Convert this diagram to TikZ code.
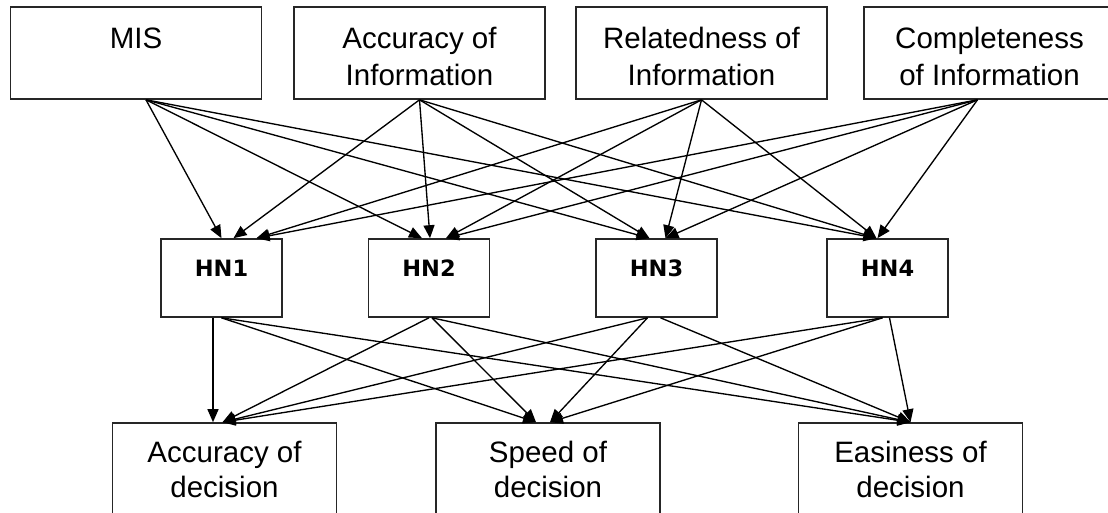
\documentclass[tikz,border=0pt]{standalone}
\usepackage{fontspec}
\setmainfont{Liberation Sans}
\newfontfamily\hnfont{DejaVu Sans}
\usetikzlibrary{arrows.meta}
\newcommand{\mylines}[2]{\begin{tabular}[t]{@{}c@{}}#1\\#2\end{tabular}}
\begin{document}
\begin{tikzpicture}[x=1pt,y=-1pt,
  boxbase/.style={draw=black!85, line width=1.6pt, inner sep=0pt, fill=white},
  topbox/.style={boxbase, minimum width=251pt, minimum height=92pt},
  hnbox/.style={boxbase, minimum width=121pt, minimum height=78pt},
  botbox/.style={boxbase, minimum width=224pt, minimum height=120pt},
  toptxt/.style={font=\fontsize{29.5}{37}\selectfont, inner sep=0pt, anchor=base},
  bottxt/.style={font=\fontsize{29.5}{35}\selectfont, inner sep=0pt, anchor=base},
  hntxt/.style={font=\hnfont\bfseries\fontsize{22.5}{27}\selectfont, inner sep=0pt, anchor=base},
  arr/.style={-{Triangle[length=13pt,width=11pt]}, line width=1.35pt, draw=black}
]
\useasboundingbox (0,0) rectangle (1108,512);
\clip (0,0) rectangle (1108,512);
\fill[white] (0,0) rectangle (1108,512);
% top boxes
\node[topbox] (mis)  at (136,53) {};
\node[topbox] (acc)  at (419.5,53) {};
\node[topbox] (rel)  at (701.5,53) {};
\node[topbox] (comp) at (989.5,53) {};
\node[toptxt] (misT)  at (136,48) {MIS};
\node[toptxt] (accT)  at (419.5,48) {\mylines{Accuracy of}{Information}};
\node[toptxt] (relT)  at (701.5,48) {\mylines{Relatedness of}{Information}};
\node[toptxt] (compT) at (989.5,48) {\mylines{Completeness}{of Information}};
% hidden nodes
\node[hnbox] (hn1) at (221.5,278) {};
\node[hnbox] (hn2) at (429,278) {};
\node[hnbox] (hn3) at (656.5,278) {};
\node[hnbox] (hn4) at (887.5,278) {};
\node[hntxt] (hn1T) at (221.5,276) {HN1};
\node[hntxt] (hn2T) at (429,276) {HN2};
\node[hntxt] (hn3T) at (656.5,276) {HN3};
\node[hntxt] (hn4T) at (887.5,276) {HN4};
% bottom boxes
\node[botbox] (dacc) at (224.5,483) {};
\node[botbox] (dspd) at (548,483) {};
\node[botbox] (deas) at (910.5,483) {};
\node[bottxt] (daccT) at (224.5,462) {\mylines{Accuracy of}{decision}};
\node[bottxt] (dspdT) at (548,462) {\mylines{Speed of}{decision}};
\node[bottxt] (deasT) at (910.5,462) {\mylines{Easiness of}{decision}};
% top -> hidden
\draw[arr] ([xshift=10pt]mis.south) -- (hn1.north);
\draw[arr] ([xshift=10pt]mis.south) -- ([xshift=-7pt]hn2.north);
\draw[arr] ([xshift=10pt]mis.south) -- ([xshift=-7pt]hn3.north);
\draw[arr] ([xshift=10pt]mis.south) -- ([xshift=-11pt]hn4.north);
\draw[arr] (acc.south) -- ([xshift=12pt]hn1.north);
\draw[arr] (acc.south) -- ([xshift=1pt]hn2.north);
\draw[arr] (acc.south) -- ([xshift=-7pt]hn3.north);
\draw[arr] (acc.south) -- ([xshift=-11pt]hn4.north);
\draw[arr] (rel.south) -- ([xshift=35pt]hn1.north);
\draw[arr] (rel.south) -- ([xshift=17pt]hn2.north);
\draw[arr] (rel.south) -- ([xshift=9pt]hn3.north);
\draw[arr] (rel.south) -- ([xshift=-11pt]hn4.north);
\draw[arr] ([xshift=-12pt]comp.south) -- ([xshift=35pt]hn1.north);
\draw[arr] ([xshift=-12pt]comp.south) -- ([xshift=17pt]hn2.north);
\draw[arr] ([xshift=-12pt]comp.south) -- ([xshift=9pt]hn3.north);
\draw[arr] ([xshift=-12pt]comp.south) -- ([xshift=-10pt]hn4.north);
% hidden -> bottom
\draw[arr] ([xshift=-8.5pt]hn1.south) -- ([xshift=-11.5pt]dacc.north);
\draw[arr] (hn1.south) -- ([xshift=-12pt]dspd.north);
\draw[arr] (hn1.south) -- (deas.north);
\draw[arr] (hn2.south) -- ([xshift=-2pt]dacc.north);
\draw[arr] ([xshift=3pt]hn2.south) -- ([xshift=-12pt]dspd.north);
\draw[arr] ([xshift=3pt]hn2.south) -- (deas.north);
\draw[arr] ([xshift=-9pt]hn3.south) -- ([xshift=-2pt]dacc.north);
\draw[arr] ([xshift=-9pt]hn3.south) -- ([xshift=2pt]dspd.north);
\draw[arr] ([xshift=4pt]hn3.south) -- (deas.north);
\draw[arr] ([xshift=-5pt]hn4.south) -- ([xshift=-2pt]dacc.north);
\draw[arr] ([xshift=-5pt]hn4.south) -- ([xshift=2pt]dspd.north);
\draw[arr] ([xshift=2pt]hn4.south) -- (deas.north);
\end{tikzpicture}
\end{document}
